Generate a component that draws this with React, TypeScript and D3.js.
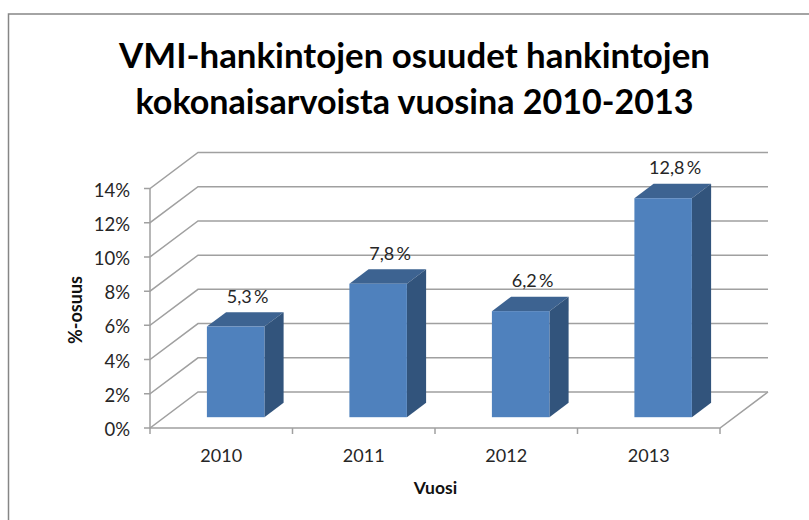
import React from "react";
import * as d3 from "d3";

const titleLines = ["VMI-hankintojen osuudet hankintojen", "kokonaisarvoista vuosina 2010-2013"];
const years = ["2010", "2011", "2012", "2013"];
const shares = [5.3, 7.8, 6.2, 12.8];
const valueLabels = ["5,3\u2009%", "7,8\u2009%", "6,2\u2009%", "12,8\u2009%"];
const yTicks = [0, 2, 4, 6, 8, 10, 12, 14];

const FONT = "Lato, 'Open Sans', sans-serif";
const GRID = "#a0a0a0";
const TEXT = "#262626";
const TITLE_WIDTHS = [591, 558];

export default function App() {
  const x = d3.scaleBand().domain(years).range([150, 720]);
  const y = d3.scaleLinear().domain([0, 14]).range([428, 188.5]);
  const dx = 48, dy = -36;
  const barWidth = 57.5;
  const barDepth = 0.4;
  const barOffset = 0.3;
  const ox = dx * barOffset, oy = dy * barOffset;
  const bx = dx * barDepth, by = dy * barDepth;

  return (
    <svg width={809} height={520} style={{ position: "absolute", left: 0, top: 0, background: "#fff" }} fontFamily={FONT}>
      <path d="M8.5 520V14H809" fill="none" stroke="#868686" strokeWidth={1.5} />
      {titleLines.map((t, i) => (
        <text key={t} x={414.5} y={68 + i * 45.5} textAnchor="middle" fontSize={34.5} fontWeight={700} fill="#000"
          textLength={TITLE_WIDTHS[i]} lengthAdjust="spacingAndGlyphs">{t}</text>
      ))}
      <path d={`M${150} ${y(14)}V${y(0)}H720l${dx} ${dy}`} fill="none" stroke={GRID} strokeWidth={1.5} />
      {yTicks.map((t) => (
        <g key={t}>
          <path d={`M${150 - 6} ${y(t)}H150l${dx} ${dy}H${720 + dx}`} fill="none" stroke={GRID} strokeWidth={1.5} />
          <text x={130} y={y(t) + 8} textAnchor="end" fontSize={18.5} fill={TEXT}>{t}%</text>
        </g>
      ))}
      {[...years.map((c) => x(c)!), 720].map((v) => (
        <path key={v} d={`M${v} ${y(0)}v6`} stroke={GRID} strokeWidth={1.5} />
      ))}
      {years.map((c, i) => {
        const left = x(c)! + (x.bandwidth() - barWidth) / 2 + ox;
        const right = left + barWidth;
        const bottom = y(0) + oy;
        const top = y(shares[i]) + oy;
        return (
          <g key={c}>
            <path d={`M${left} ${top}l${bx} ${by}H${right + bx}L${right} ${top}Z`} fill="#3d6391" />
            <path d={`M${right} ${top}l${bx} ${by}V${bottom + by}L${right} ${bottom}Z`} fill="#32547c" />
            <rect x={left} y={top} width={barWidth} height={bottom - top} fill="#4f81bd" />
            <text x={left + barWidth / 2 + 12} y={top - 24} textAnchor="middle" fontSize={18} fill={TEXT}>{valueLabels[i]}</text>
            <text x={x(c)! + x.bandwidth() / 2} y={462} textAnchor="middle" fontSize={18} fill={TEXT}>{c}</text>
          </g>
        );
      })}
      <text x={435.5} y={494} textAnchor="middle" fontSize={17.5} fontWeight={700} fill="#111">Vuosi</text>
      <text transform="translate(82,310) rotate(-90)" textAnchor="middle" fontSize={18} fontWeight={700} fill="#111">%-osuus</text>
    </svg>
  );
}
